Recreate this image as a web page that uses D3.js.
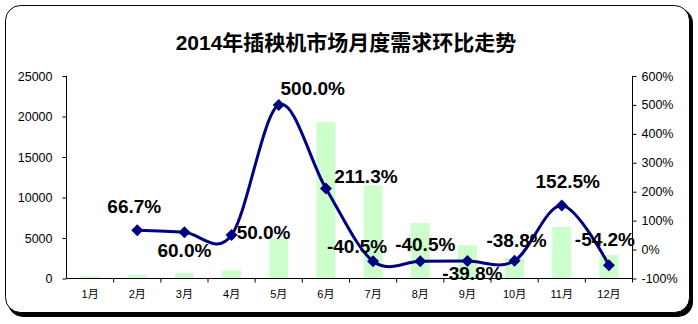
<!DOCTYPE html>
<html>
<head>
<meta charset="utf-8">
<script src="https://cdn.jsdelivr.net/npm/d3@7/dist/d3.min.js"></script>
<style>
  html, body { margin: 0; padding: 0; background: #fff; }
  svg { display: block; }
</style>
</head>
<body>
<svg id="chart" width="698" height="324"></svg>
<script>
// Monthly demand for rice transplanters in 2014 (units) and month-on-month change (%)
const months = ["1月", "2月", "3月", "4月", "5月", "6月", "7月", "8月", "9月", "10月", "11月", "12月"];
const demand = [260, 430, 690, 1030, 4900, 19300, 11500, 6840, 4120, 2520, 6360, 2910];
const momChange = [null, 66.7, 60.0, 50.0, 500.0, 211.3, -40.5, -40.5, -39.8, -38.8, 152.5, -54.2];
const leftTicks = [0, 5000, 10000, 15000, 20000, 25000];
const rightTicks = [-100, 0, 100, 200, 300, 400, 500, 600];
const title = "2014年插秧机市场月度需求环比走势";

const svg = d3.select("#chart");
const plot = { left: 66.5, right: 632.5, top: 76, bottom: 278.5 };

// Card frame with a dark drop shadow on the right and bottom
svg.append("rect")
  .attr("x", 8).attr("y", 8).attr("width", 685).attr("height", 309)
  .attr("rx", 15).attr("ry", 15).attr("fill", "#000");
svg.append("rect")
  .attr("x", 5.5).attr("y", 5.5).attr("width", 684).attr("height", 307)
  .attr("rx", 15).attr("ry", 15).attr("fill", "#fff")
  .attr("stroke", "#000").attr("stroke-width", 1);

svg.append("text")
  .attr("x", 346).attr("y", 50)
  .attr("text-anchor", "middle")
  .attr("font-family", "Arial, 'Liberation Sans', 'Noto Sans CJK SC', sans-serif")
  .attr("font-weight", "bold")
  .attr("font-size", 21)
  .attr("fill", "#000")
  .text(title);

const x = d3.scaleBand().domain(months).range([plot.left, plot.right]).paddingInner(0).paddingOuter(0);
const yL = d3.scaleLinear().domain([0, 25000]).range([plot.bottom, plot.top]);
const yR = d3.scaleLinear().domain([-100, 600]).range([plot.bottom, plot.top]);

const axisFont = "Arial, 'Liberation Sans', 'Noto Sans CJK SC', sans-serif";

// Bars: monthly demand
const barW = 19;
svg.append("g").selectAll("rect")
  .data(demand)
  .join("rect")
  .attr("x", (d, i) => x(months[i]) + x.bandwidth() / 2 - barW / 2)
  .attr("y", d => yL(d))
  .attr("width", barW)
  .attr("height", d => yL(0) - yL(d))
  .attr("fill", "#CCFFCC");

// Left axis
const gL = svg.append("g").attr("transform", `translate(${plot.left},0)`)
  .call(d3.axisLeft(yL).tickValues(leftTicks).tickSize(4).tickPadding(10).tickFormat(d3.format("d")));
gL.select(".domain").attr("stroke", "#000").attr("d", `M-0,${plot.top}V${plot.bottom}`);
gL.selectAll(".tick line").attr("stroke", "#000");
gL.selectAll("text").attr("font-family", axisFont).attr("font-size", 12.5).attr("fill", "#000");

// Right axis
const gR = svg.append("g").attr("transform", `translate(${plot.right},0)`)
  .call(d3.axisRight(yR).tickValues(rightTicks).tickSize(4).tickPadding(5).tickFormat(d => d + "%"));
gR.select(".domain").attr("stroke", "#000").attr("d", `M0,${plot.top}V${plot.bottom}`);
gR.selectAll(".tick line").attr("stroke", "#000");
gR.selectAll("text").attr("font-family", axisFont).attr("font-size", 12.5).attr("fill", "#000");

// Bottom axis: ticks on category boundaries, labels centred in each band
const gX = svg.append("g").attr("transform", `translate(0,${plot.bottom})`);
gX.append("line").attr("x1", plot.left).attr("x2", plot.right)
  .attr("y1", 0).attr("y2", 0).attr("stroke", "#000");
gX.selectAll("line.tk").data(months)
  .join("line").attr("class", "tk")
  .attr("x1", d => x(d) + x.bandwidth())
  .attr("x2", d => x(d) + x.bandwidth())
  .attr("y1", 0).attr("y2", 4).attr("stroke", "#000");
gX.selectAll("text").data(months).join("text")
  .attr("x", d => x(d) + x.bandwidth() / 2)
  .attr("y", 19)
  .attr("text-anchor", "middle")
  .attr("font-family", axisFont)
  .attr("font-size", 11)
  .attr("fill", "#000")
  .text(d => d);

// Smoothed month-on-month line
const pts = momChange.map((v, i) => ({ m: months[i], v })).filter(p => p.v !== null);
const cx = p => x(p.m) + x.bandwidth() / 2;
const line = d3.line().x(cx).y(p => yR(p.v)).curve(d3.curveCardinal.tension(0));
svg.append("path").datum(pts)
  .attr("d", line)
  .attr("fill", "none")
  .attr("stroke", "#000080")
  .attr("stroke-width", 3);

svg.append("g").selectAll("path").data(pts).join("path")
  .attr("transform", p => `translate(${cx(p)},${yR(p.v)})`)
  .attr("d", "M0,-6L6,0L0,6L-6,0Z")
  .attr("fill", "#000080");

// Value labels, nudged around each marker
const labelShift = [null, [-3, -17], [0, 25], [32, 4], [34, -10], [40, -5],
  [-16, -8], [5, -10], [5, 19], [2, -14], [6, -17], [-4, -19]];
svg.append("g").selectAll("text").data(pts).join("text")
  .attr("x", p => cx(p) + labelShift[months.indexOf(p.m)][0])
  .attr("y", p => yR(p.v) + labelShift[months.indexOf(p.m)][1])
  .attr("text-anchor", "middle")
  .attr("font-family", "Arial, 'Liberation Sans', sans-serif")
  .attr("font-weight", "bold")
  .attr("font-size", 19)
  .attr("fill", "#000")
  .text(p => p.v.toFixed(1) + "%");
</script>
</body>
</html>
